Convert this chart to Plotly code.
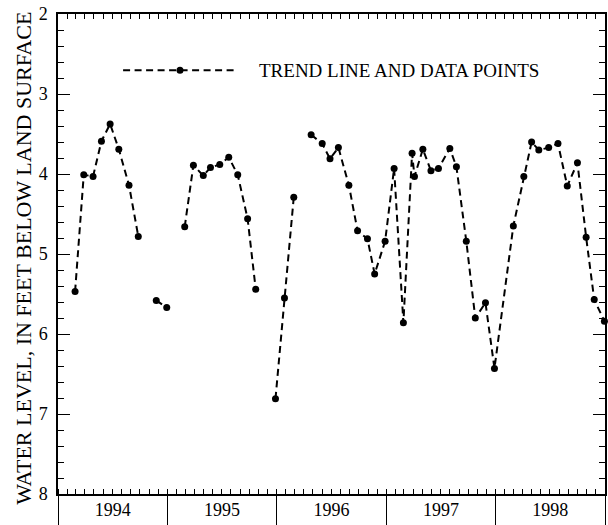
import plotly.graph_objects as go

dates = [
    "1994-02-27", "1994-03-28", "1994-04-28", "1994-05-26", "1994-06-24", "1994-07-23",
    "1994-08-26", "1994-09-26", None,
    "1994-11-25", "1994-12-30", None,
    "1995-02-28", "1995-03-29", "1995-05-01", "1995-05-25", "1995-06-25", "1995-07-25",
    "1995-08-24", "1995-09-26", "1995-10-23", None,
    "1995-12-28", "1996-01-27", "1996-02-27", None,
    "1996-04-25", "1996-06-01", "1996-06-27", "1996-07-25", "1996-08-29", "1996-09-27",
    "1996-10-30", "1996-11-23", "1996-12-28", "1997-01-27", "1997-02-27", "1997-03-28",
    "1997-04-05", "1997-05-03", "1997-05-30", "1997-06-24", "1997-08-01", "1997-08-23",
    "1997-09-25", "1997-10-25", "1997-11-28", "1997-12-28", "1998-03-01", "1998-04-05",
    "1998-05-01", "1998-05-25", "1998-06-27", "1998-07-28", "1998-08-28", "1998-10-01",
    "1998-10-30", "1998-11-26", "1998-12-30",
]
water_level = [
    5.47, 4.01, 4.03, 3.59, 3.375, 3.69, 4.14, 4.78, None,
    5.58, 5.67, None,
    4.66, 3.89, 4.02, 3.92, 3.88, 3.79, 4.01, 4.56, 5.44, None,
    6.81, 5.55, 4.29, None,
    3.51, 3.62, 3.81, 3.67, 4.14, 4.71, 4.81, 5.25, 4.84, 3.93, 5.86, 3.74,
    4.03, 3.69, 3.96, 3.93, 3.68, 3.91, 4.84, 5.80, 5.61, 6.43, 4.65, 4.03,
    3.60, 3.70, 3.67, 3.62, 4.15, 3.86, 4.79, 5.57, 5.84,
]
# gap entries reuse the previous date; their None level breaks the line
x_vals = []
for i, d in enumerate(dates):
    x_vals.append(d if d is not None else dates[i - 1])

year_range = ["1994-01-01", "1999-01-01"]
y_range = [8, 2]
legend_text = "TREND LINE AND DATA POINTS"
y_title = "WATER LEVEL, IN FEET BELOW LAND SURFACE"

FONT = "Liberation Serif, Times New Roman, serif"
DASH = "7px,4.5px"

fig = go.Figure()
fig.add_trace(go.Scatter(
    x=x_vals, y=water_level, mode="lines+markers", connectgaps=False,
    line=dict(color="black", width=2, dash=DASH),
    marker=dict(color="black", size=7),
    showlegend=False, cliponaxis=False,
))
# invisible trace on top axis (monthly ticks)
fig.add_trace(go.Scatter(x=year_range, y=[None, None], xaxis="x2", yaxis="y",
                         showlegend=False, hoverinfo="skip"))

fig.update_layout(
    width=608, height=525,
    margin=dict(l=58, r=3, t=14, b=31),
    paper_bgcolor="white", plot_bgcolor="white",
    font=dict(family=FONT, color="black", size=16),
    xaxis=dict(
        type="date", range=year_range, tick0="1994-01-01", dtick="M12",
        ticklabelmode="period", tickformat="%Y",
        ticks="outside", ticklen=30, tickwidth=1.3, tickcolor="black",
        ticklabelstandoff=-31, ticklabeloverflow="allow",
        showline=True, linecolor="black", linewidth=1.5, mirror=True,
        showgrid=False, zeroline=False, automargin=False,
        minor=dict(dtick="M1", tick0="1994-01-01", ticks="inside", ticklen=5,
                   tickwidth=1, tickcolor="black", showgrid=False),
        tickfont=dict(size=18, family=FONT),
    ),
    xaxis2=dict(
        type="date", overlaying="x", matches="x", side="top", anchor="y",
        range=year_range, tick0="1994-01-01", dtick="M1",
        ticks="inside", ticklen=5, tickwidth=1, tickcolor="black",
        showticklabels=False, showgrid=False, zeroline=False, showline=False,
        automargin=False,
    ),
    yaxis=dict(
        range=y_range, dtick=1, tick0=2,
        ticks="inside", ticklen=12, tickwidth=1.3, tickcolor="black",
        showline=True, linecolor="black", linewidth=1.5, mirror="ticks",
        showgrid=False, zeroline=False, automargin=False,
        minor=dict(dtick=0.2, ticks="inside", ticklen=6, tickwidth=1,
                   tickcolor="black", showgrid=False),
        tickfont=dict(size=18, family=FONT),
        ticklabelstandoff=5, ticklabeloverflow="allow",
    ),
    shapes=[
        dict(type="line", xref="paper", yref="paper", x0=0.119, x1=0.327, y0=0.883, y1=0.883,
             line=dict(color="black", width=2, dash=DASH)),
        dict(type="circle", xref="paper", yref="paper", xsizemode="pixel", ysizemode="pixel",
             xanchor=0.223, yanchor=0.883, x0=-3.5, x1=3.5, y0=-3.5, y1=3.5,
             fillcolor="black", line=dict(color="black", width=0)),
    ],
    annotations=[
        dict(text=legend_text, xref="paper", yref="paper", x=0.364, y=0.883,
             xanchor="left", yanchor="middle", showarrow=False,
             font=dict(size=19, family=FONT)),
        dict(text=y_title, xref="paper", yref="paper", x=-0.0622, y=0.492,
             xanchor="center", yanchor="middle", showarrow=False, textangle=-90,
             font=dict(size=22, family=FONT)),
    ],
)

fig.write_html("out.html", config={"displayModeBar": False},
               post_script="document.body.style.margin='0';")
